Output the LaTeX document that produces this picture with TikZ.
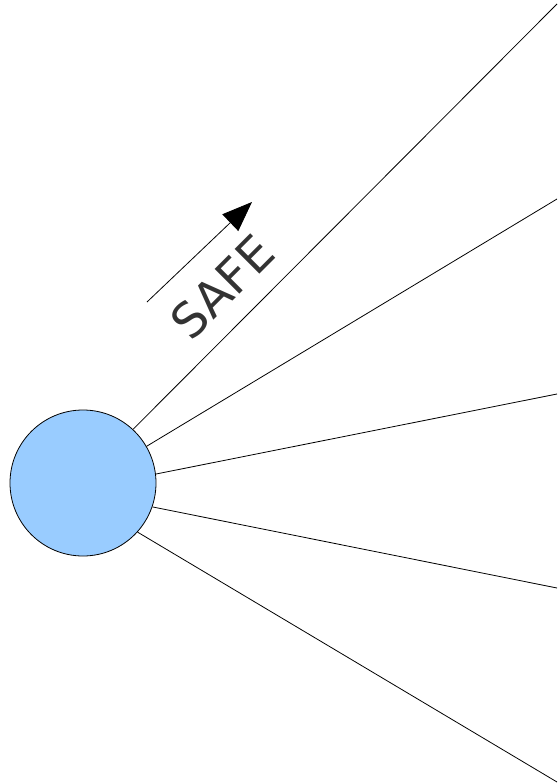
\documentclass[tikz,border=0pt]{standalone}
\usepackage{fontspec}
\usepackage{tikz}
\usepackage{xcolor}
\setmainfont{DejaVu Sans}
\usetikzlibrary{arrows.meta}
\definecolor{cSun}{RGB}{153,204,255}
\definecolor{cText}{RGB}{51,51,51}
\tikzset{
	sun/.style     ={circle, draw=black, line width=0.8pt, fill=cSun, minimum size=146pt, inner sep=0pt},
	ray/.style     ={line width=0.8pt, black},
	label/.style   ={rotate=45, text=cText, font=\fontsize{48}{48}\selectfont, inner sep=0pt},
	dirarrow/.style={-{Triangle[length=30pt, width=23pt]}, line width=0.8pt},
}

\begin{document}
\begin{tikzpicture}[x=1pt, y=-1pt]
	\useasboundingbox (0,0) rectangle (559,784);
	% sun
	\node[sun] (sun) at (83,483) {};
	% ray ends
	\coordinate (r1) at (557,4);
	\coordinate (r2) at (557,199);
	\coordinate (r3) at (557,394);
	\coordinate (r4) at (557,588);
	\coordinate (r5) at (557,782);
	% rays
	\draw[ray] (sun.47.8) -- (r1);
	\draw[ray] (sun.30.8) -- (r2);
	\draw[ray] (sun.7) -- (r3);
	\draw[ray] (sun.-19.2) -- (r4);
	\draw[ray] (sun.-42.2) -- (r5);
	% direction
	\coordinate (a1) at (147,302);
	\coordinate (a2) at (252,202);
	\draw[dirarrow] (a1) -- (a2);
	\node[label] (safe) at (222,287) {SAFE};
\end{tikzpicture}
\end{document}
